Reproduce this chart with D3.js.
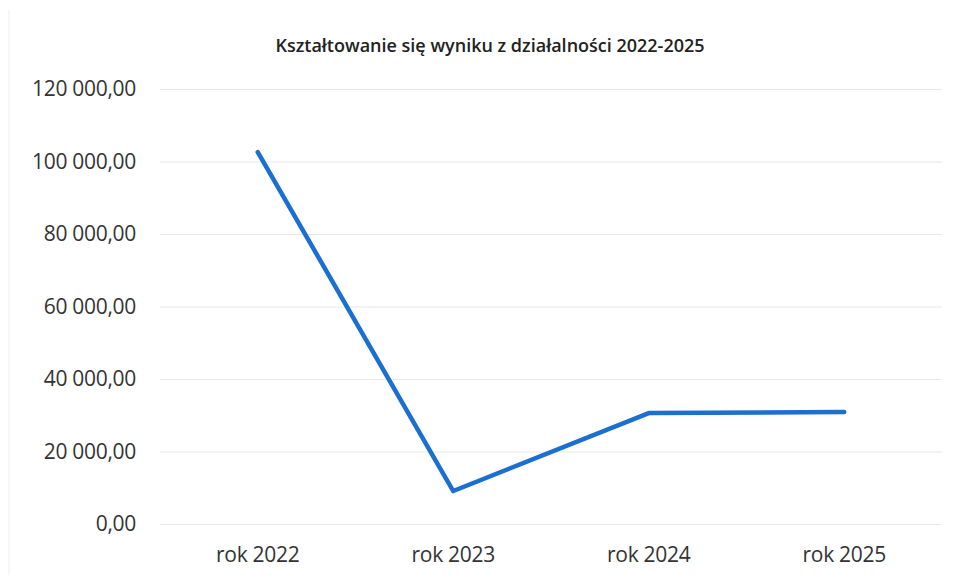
<!DOCTYPE html>
<html><head><meta charset="utf-8">
<script src="https://cdn.jsdelivr.net/npm/d3@7"></script>
<style>body{margin:0;background:#fff}svg{display:block}</style>
</head><body>
<svg id="c" width="958" height="580"></svg>
<script>
const categories = ["rok 2022", "rok 2023", "rok 2024", "rok 2025"];
const values = [102600, 9100, 30600, 30900];
const yTicks = [0, 20000, 40000, 60000, 80000, 100000, 120000];
const title = "Kształtowanie się wyniku z działalności 2022-2025";

const svg = d3.select("#c");
const font = "'Open Sans', 'Noto Sans', sans-serif";
const x = d3.scaleBand().domain(categories).range([160, 942]);
const y = d3.scaleLinear().domain([0, 120000]).range([524, 89]);
const fmt = v => d3.format(",.2f")(v).replace(/,/g, " ").replace(".", ",");

svg.append("line").attr("x1", 9).attr("x2", 9).attr("y1", 10).attr("y2", 575)
  .attr("stroke", "#eeeeee").attr("stroke-width", 1);

svg.append("text").attr("x", 490).attr("y", 52).attr("text-anchor", "middle")
  .attr("font-family", font).attr("font-size", 18).attr("font-weight", 600)
  .attr("fill", "#222").text(title);

const yAxis = svg.append("g").attr("transform", "translate(160,0)")
  .call(d3.axisLeft(y).tickValues(yTicks).tickFormat(fmt).tickSize(-782).tickPadding(24));
yAxis.select(".domain").remove();
yAxis.selectAll(".tick line").attr("stroke", "#e8e8e8").attr("stroke-width", 1.2);
yAxis.selectAll(".tick text").attr("font-family", font).attr("font-size", 21)
  .attr("fill", "#333").attr("letter-spacing", -0.3);

const xAxis = svg.append("g").attr("transform", "translate(0,524)")
  .call(d3.axisBottom(x).tickSize(0).tickPadding(23));
xAxis.select(".domain").remove();
xAxis.selectAll(".tick text").attr("font-family", font).attr("font-size", 21)
  .attr("fill", "#333").attr("letter-spacing", -0.3);

const line = d3.line().x((d, i) => x(categories[i]) + x.bandwidth() / 2).y(d => y(d));
svg.append("path").datum(values).attr("d", line).attr("fill", "none")
  .attr("stroke", "#1b6fd0").attr("stroke-width", 4.5)
  .attr("stroke-linejoin", "round").attr("stroke-linecap", "round");
</script>
</body></html>
